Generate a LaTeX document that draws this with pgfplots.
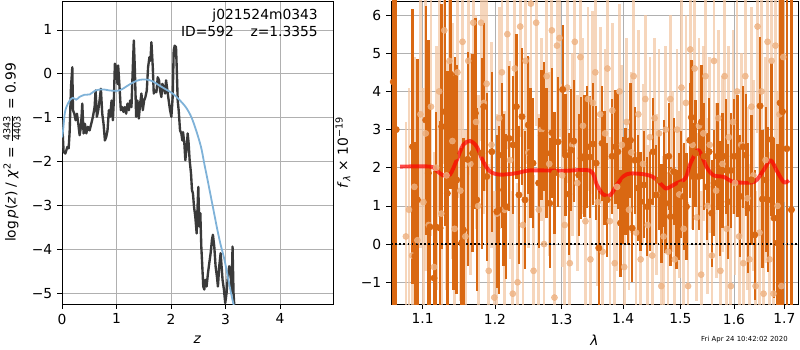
\documentclass[border=0pt]{standalone}
\usepackage{amsmath}
\usepackage{fontspec}
\setmainfont{DejaVu Sans}
\usepackage{pgfplots}
\pgfplotsset{compat=1.18}
\definecolor{dkorange}{RGB}{217,104,18}
\definecolor{ltorange}{RGB}{243,200,165}
\definecolor{ltdot}{RGB}{238,178,130}
\definecolor{pzline}{RGB}{58,58,58}
\definecolor{pzblue}{RGB}{127,178,216}
\definecolor{gridgray}{RGB}{176,176,176}
\begin{document}
\begin{tikzpicture}
\path[use as bounding box] (0,0) rectangle (576bp,252bp);
\pgfplotsset{
  every axis/.append style={
    scale only axis, anchor=south west,
    tick pos=left, tick align=outside,
    major tick length=3.5bp,
    every tick/.style={black, line width=0.6bp},
    axis line style={line width=0.6bp},
    grid=major,
    major grid style={color=gridgray, line width=0.6bp},
    tick label style={font=\fontsize{10}{12}\selectfont},
    label style={font=\fontsize{10}{12}\selectfont},
    enlargelimits=false, clip=true,
  }
}
% ---------------- left panel: p(z) ----------------
\begin{axis}[
  at={(44.64bp,33.1bp)}, width=195.1bp, height=218.2bp,
  xmin=0, xmax=4.97, ymin=-5.25, ymax=1.66,
  xtick={0,1,2,3,4}, xticklabels={0,1,2,3,4},
  ytick={-5,-4,-3,-2,-1,0,1}, yticklabels={−5,−4,−3,−2,−1,0,1},
  xlabel={\textit{z}},
  ylabel={log\,\textit{p}(\textit{z}) / \textit{χ}$^{\text{2}}$ = $\frac{\text{4343}}{\text{4403}}$ = 0.99},
  x label style={at={(axis description cs:0.5,-0.119)}, anchor=center},
  y label style={at={(axis description cs:-0.185,0.5)}, anchor=center},
]
\addplot[pzline, line width=1.7bp, line join=round] coordinates {
(0.000,-1.05) (0.006,-1.21) (0.030,-1.78) (0.061,-1.82) (0.098,-1.67) (0.122,-1.70) (0.140,-1.33)
(0.165,-0.30) (0.189,0.15) (0.201,-0.83) (0.226,-0.91) (0.250,-1.06) (0.274,-0.91) (0.299,-1.14)
(0.323,-1.40) (0.348,-1.21) (0.372,-0.68) (0.396,-1.36) (0.421,-1.14) (0.445,-1.36) (0.476,-1.21)
(0.506,-1.29) (0.537,-1.14) (0.567,-0.98) (0.598,-0.76) (0.616,-0.38) (0.640,-0.98) (0.665,-0.83)
(0.689,-0.61) (0.713,-0.34) (0.738,-0.91) (0.762,-1.14) (0.787,-1.52) (0.811,-1.44) (0.835,-1.29)
(0.860,-0.83) (0.884,-0.98) (0.909,-0.61) (0.933,-1.06) (0.951,-0.61) (0.970,0.23) (0.994,0.15)
(1.018,-0.23) (1.030,0.19) (1.055,-0.30) (1.079,-0.83) (1.104,-0.76) (1.128,-0.87) (1.152,-0.76)
(1.177,-0.91) (1.201,-0.68) (1.226,-0.83) (1.250,-0.61) (1.274,-0.76) (1.299,0.15) (1.317,0.76)
(1.335,0.15) (1.360,-0.98) (1.384,-0.61) (1.409,-1.02) (1.433,-0.68) (1.457,-0.45) (1.482,-0.83)
(1.506,-0.61) (1.530,-0.53) (1.555,-0.38) (1.579,0.15) (1.604,0.38) (1.622,0.30) (1.640,0.72)
(1.665,0.15) (1.683,-0.45) (1.707,-0.38) (1.732,-0.42) (1.756,-0.08) (1.780,-0.15) (1.799,-0.38)
(1.823,-0.53) (1.841,-0.23) (1.866,-0.30) (1.890,-0.45) (1.909,-0.15) (1.933,-0.38) (1.957,-0.61)
(1.982,-0.83) (2.006,-0.98) (2.030,-0.53) (2.049,0.53) (2.067,0.64) (2.091,0.61) (2.104,0.15)
(2.122,-0.61) (2.140,-0.83) (2.165,-1.29) (2.189,-1.36) (2.207,-1.52) (2.220,-1.33) (2.244,-1.59)
(2.262,-1.97) (2.287,-1.67) (2.305,-1.36) (2.323,-1.59) (2.341,-1.97) (2.366,-2.27) (2.384,-2.65)
(2.402,-2.73) (2.421,-3.03) (2.445,-3.26) (2.470,-3.64) (2.482,-3.18) (2.500,-2.58) (2.518,-3.48)
(2.537,-3.18) (2.555,-3.94) (2.573,-4.39) (2.591,-4.85) (2.610,-4.92) (2.628,-4.70) (2.652,-4.85)
(2.677,-4.55) (2.701,-4.32) (2.726,-4.09) (2.750,-3.79) (2.768,-3.67) (2.793,-3.94) (2.817,-4.39)
(2.841,-4.62) (2.860,-4.85) (2.884,-4.39) (2.909,-4.09) (2.927,-4.39) (2.945,-4.70) (2.970,-4.92)
(2.994,-5.23) (3.018,-5.00) (3.043,-4.62) (3.067,-4.39) (3.091,-4.47) (3.110,-5.00) (3.128,-3.94)
(3.146,-5.00) (3.165,-5.38)
};
\addplot[pzblue, line width=1.3bp, smooth] coordinates {
(0.00,-1.45) (0.02,-1.29) (0.05,-0.91) (0.08,-0.76) (0.14,-0.61) (0.20,-0.55) (0.26,-0.59)
(0.32,-0.53) (0.41,-0.48) (0.51,-0.47) (0.60,-0.39) (0.69,-0.36) (0.78,-0.36) (0.87,-0.38)
(1.00,-0.39) (1.09,-0.36) (1.18,-0.29) (1.30,-0.20) (1.42,-0.14) (1.54,-0.13) (1.66,-0.17)
(1.79,-0.27) (1.91,-0.36) (2.03,-0.45) (2.15,-0.59) (2.27,-0.76) (2.37,-0.98) (2.46,-1.29)
(2.55,-1.67) (2.61,-2.05) (2.67,-2.42) (2.73,-2.80) (2.79,-3.18) (2.85,-3.56) (2.91,-3.90)
(2.98,-4.24) (3.04,-4.62) (3.10,-5.00) (3.16,-5.34) (3.20,-5.60)
};
\node[anchor=north east, align=right, font=\fontsize{10}{12.2}\selectfont, inner sep=0pt]
  at (rel axis cs:0.945,0.975) {j021524m0343\\ID=592\hspace{12bp}z=1.3355};
\end{axis}
% ---------------- right panel: spectrum ----------------
\begin{axis}[
  at={(281.5bp,33.1bp)}, width=293bp, height=218.2bp,
  xmode=log, xmin=1.0588, xmax=1.728, ymin=-1.57, ymax=6.37,
  xtick={1.1,1.2,1.3,1.4,1.5,1.6,1.7}, xticklabels={1.1,1.2,1.3,1.4,1.5,1.6,1.7},
  minor xtick={},
  ytick={-1,0,1,2,3,4,5,6}, yticklabels={−1,0,1,2,3,4,5,6},
  xlabel={\textit{λ}}, ylabel={\textit{f}$_{\text{\textit{λ}}}$ × 10$^{\text{−19}}$},
  x label style={at={(axis description cs:0.5,-0.119)}, anchor=center},
  y label style={at={(axis description cs:-0.118,0.5)}, anchor=center},
]
% light series
\addplot[ltorange, only marks, mark=*, mark size=2.2bp,
  mark options={draw=ltdot, fill=ltdot, opacity=0.8},
  error bars/.cd, y dir=both, y explicit, error mark=none,
  error bar style={line width=2.0bp, color=ltorange, opacity=0.75}]
table[x=x, y=y, y error=e] {
x y e
1.078 0.2 3.0
1.082 0.9 3.2
1.086 -0.3 3.0
1.089 1.5 3.4
1.093 0.1 3.1
1.097 3.4 3.5
1.101 1.1 3.0
1.104 2.9 3.6
1.108 0.5 3.0
1.111 3.6 3.4
1.115 -0.6 3.0
1.118 2.0 3.2
1.122 4.0 3.3
1.125 0.8 3.0
1.129 5.6 3.5
1.132 1.8 3.0
1.136 4.8 3.2
1.140 2.7 3.1
1.143 0.4 3.0
1.147 4.5 3.3
1.151 1.4 2.9
1.154 5.3 3.3
1.158 0.2 2.8
1.162 4.8 3.0
1.165 2.1 2.9
1.169 5.8 3.2
1.173 3.2 2.8
1.176 1.0 2.9
1.180 5.8 3.1
1.184 3.7 2.9
1.188 4.2 2.8
1.191 -0.7 2.8
1.195 2.6 2.7
1.199 -1.4 2.8
1.203 0.8 2.6
1.206 3.3 2.9
1.210 4.5 2.7
1.214 0.9 2.6
1.218 5.5 3.0
1.222 2.2 2.6
1.226 -1.3 2.7
1.229 4.6 2.8
1.233 -1.0 2.6
1.237 5.7 2.9
1.241 0.5 2.5
1.245 4.8 2.7
1.249 2.4 2.5
1.253 6.3 2.8
1.257 -0.7 2.5
1.261 5.8 2.7
1.265 0.9 2.5
1.269 3.0 2.4
1.273 0.0 2.5
1.277 4.4 2.6
1.281 2.1 2.4
1.285 5.6 2.7
1.289 -1.4 2.5
1.293 5.2 2.6
1.297 5.4 2.6
1.301 1.8 2.4
1.305 0.5 2.3
1.309 4.1 2.5
1.313 -0.5 2.3
1.317 2.6 2.4
1.321 5.3 2.6
1.325 1.6 2.3
1.330 4.9 2.5
1.334 3.1 2.3
1.338 0.6 2.3
1.342 3.8 2.4
1.346 -0.4 2.3
1.350 3.7 2.4
1.354 4.5 2.5
1.358 1.1 2.2
1.362 3.4 2.3
1.366 -0.2 2.2
1.370 2.9 2.2
1.374 4.6 2.4
1.378 0.6 2.2
1.382 3.5 2.3
1.386 -0.5 2.1
1.390 1.5 2.2
1.394 4.0 2.3
1.398 2.6 2.1
1.402 -0.6 2.1
1.406 3.2 2.2
1.410 0.9 2.1
1.414 2.4 2.1
1.418 4.4 2.3
1.422 0.3 2.1
1.426 3.4 2.2
1.430 -0.4 2.1
1.434 2.1 2.1
1.438 3.8 2.2
1.442 0.5 2.1
1.446 2.8 2.1
1.450 -0.3 2.2
1.454 3.3 2.1
1.458 1.3 2.1
1.462 2.9 2.2
1.466 -1.1 2.1
1.470 0.2 2.1
1.474 3.0 2.2
1.478 -0.2 2.1
1.482 3.8 2.2
1.486 1.9 2.1
1.490 -0.4 2.2
1.494 3.0 2.1
1.498 1.3 2.2
1.502 4.1 2.3
1.506 0.4 2.2
1.510 3.7 2.3
1.514 -1.1 2.2
1.518 5.1 2.4
1.522 2.6 2.2
1.526 4.6 2.4
1.530 0.7 2.2
1.534 3.1 2.3
1.538 -0.8 2.2
1.542 2.9 2.3
1.546 4.4 2.4
1.550 1.0 2.3
1.554 2.6 2.3
1.558 -0.3 2.3
1.562 4.8 2.4
1.566 1.4 2.3
1.570 3.3 2.3
1.574 -0.7 2.3
1.578 2.1 2.3
1.582 4.4 2.5
1.586 0.4 2.3
1.590 2.8 2.4
1.594 -1.1 2.3
1.598 3.2 2.4
1.602 1.6 2.4
1.606 4.0 2.5
1.610 0.2 2.4
1.614 2.6 2.4
1.618 -0.5 2.4
1.622 4.4 2.5
1.626 1.2 2.4
1.630 -0.4 2.5
1.634 3.6 2.6
1.638 1.8 2.5
1.642 -1.1 2.5
1.646 5.7 2.8
1.650 0.3 2.6
1.654 4.0 2.7
1.658 -1.3 2.7
1.662 2.2 2.7
1.666 5.3 3.0
1.670 -0.4 2.8
1.674 4.8 3.0
1.678 -1.3 2.9
1.682 5.2 3.2
1.686 1.0 3.0
1.690 3.4 3.3
1.694 -1.1 3.5
1.698 4.9 3.8
};
% dark series
\addplot[dkorange, only marks, mark=*, mark size=2.3bp,
  mark options={draw=dkorange, fill=dkorange},
  error bars/.cd, y dir=both, y explicit, error mark=none,
  error bar style={line width=1.7bp, color=dkorange}]
table[x=x, y=y, y error=e] {
x y e
1.0618 4.25 9
1.0655 3.00 9
1.0868 2.55 3.6
1.0899 -0.32 3.0
1.0930 1.16 3.7
1.1040 3.25 3.0
1.1075 1.86 3.5
1.1097 0.45 3.2
1.1151 -0.89 2.8
1.1178 0.45 3.0
1.1232 0.42 2.8
1.1254 3.08 3.2
1.1299 3.47 3.0
1.1331 1.33 3.2
1.1376 4.45 3.0
1.1413 1.60 2.8
1.1436 2.30 2.6
1.1459 1.68 3.0
1.1528 0.03 2.5
1.1551 0.37 2.4
1.1612 2.22 2.8
1.1682 2.38 2.6
1.1720 3.43 2.5
1.1739 1.16 2.4
1.1810 2.38 2.5
1.1839 3.60 2.2
1.1882 1.77 2.2
1.1954 2.42 2.1
1.2027 0.85 2.0
1.2056 0.90 2.2
1.2100 2.33 1.9
1.2124 1.42 2.0
1.2164 0.98 1.9
1.2203 2.77 1.9
1.2262 2.60 1.8
1.2312 3.60 1.9
1.2351 1.29 1.8
1.2396 3.34 1.8
1.2441 1.16 1.8
1.2491 3.12 1.8
1.2522 2.38 1.7
1.2562 2.12 1.7
1.2648 1.60 1.7
1.2689 2.85 1.7
1.2725 3.08 1.7
1.2765 2.38 1.7
1.2817 1.07 1.7
1.2853 2.92 1.7
1.2889 1.86 1.6
1.2946 2.68 1.7
1.3019 4.05 1.7
1.3061 2.33 1.6
1.3114 1.31 1.6
1.3151 2.46 1.6
1.3193 2.70 1.6
1.3273 1.81 1.6
1.3310 2.25 1.6
1.3364 2.30 1.6
1.3407 2.55 1.6
1.3450 2.28 1.6
1.3499 2.62 1.6
1.3553 2.12 1.5
1.3597 -0.10 1.5
1.3651 2.64 1.5
1.3690 2.00 1.5
1.3734 1.16 1.5
1.3817 2.30 1.5
1.3873 2.55 1.5
1.3912 2.42 1.5
1.3957 0.55 1.4
1.3996 1.40 1.4
1.4041 1.64 1.4
1.4086 1.38 1.4
1.4126 2.72 1.5
1.4154 0.42 1.4
1.4200 2.20 1.4
1.4251 1.47 1.4
1.4297 1.11 1.3
1.4355 1.55 1.4
1.4412 0.98 1.3
1.4458 1.11 1.3
1.4516 2.42 1.4
1.4569 1.29 1.3
1.4615 1.68 1.3
1.4662 0.81 1.3
1.4703 1.86 1.4
1.4733 1.07 1.3
1.4792 2.30 1.4
1.4822 0.72 1.3
1.4881 1.90 1.4
1.4929 0.64 1.3
1.4971 0.98 1.4
1.5013 1.55 1.4
1.5061 1.25 1.4
1.5110 0.98 1.4
1.5171 2.72 1.5
1.5201 3.32 1.5
1.5232 1.77 1.4
1.5275 2.38 1.4
1.5336 1.77 1.4
1.5385 3.20 1.5
1.5435 2.30 1.4
1.5485 1.50 1.4
1.5528 2.42 1.4
1.5578 0.81 1.4
1.5621 1.60 1.4
1.5684 2.30 1.4
1.5728 1.20 1.5
1.5779 1.93 1.5
1.5842 2.30 1.5
1.5887 1.11 1.5
1.5938 1.93 1.5
1.6002 2.30 1.5
1.6066 2.30 1.6
1.6118 1.25 1.6
1.6176 2.55 1.6
1.6228 2.33 1.6
1.6274 0.94 1.7
1.6339 1.68 1.7
1.6404 0.24 1.7
1.6510 3.62 1.8
1.6557 1.18 1.8
1.6623 1.68 1.9
1.6670 1.16 1.9
1.6737 2.74 2.0
1.6791 0.68 2.1
1.6859 0.03 2.6
1.6913 3.70 9
1.6961 3.47 9
1.7050 2.50 9
1.7146 0.90 9
};
\addplot[black, line width=1.1bp, dash pattern=on 1.1bp off 1.9bp] coordinates {(1.0588,0) (1.728,0)};
\addplot[red, opacity=0.7, line width=2.8bp, smooth, line join=round] coordinates {
(1.0704,2.03) (1.1100,2.03) (1.1187,1.92) (1.1277,1.80) (1.1368,1.82) (1.1460,2.20) (1.1550,2.60)
(1.1645,2.70) (1.1740,2.55) (1.1834,2.15) (1.1930,1.90) (1.2075,1.82) (1.2320,1.86) (1.2518,1.93)
(1.3030,1.92) (1.3457,1.92) (1.3565,1.55) (1.3670,1.30) (1.3785,1.28) (1.3896,1.55) (1.4010,1.78)
(1.4120,1.85) (1.4350,1.83) (1.4524,1.75) (1.4702,1.50) (1.4760,1.46) (1.4938,1.60) (1.5089,1.72)
(1.5180,2.10) (1.5302,2.45) (1.5364,2.40) (1.5488,2.00) (1.5614,1.80) (1.5803,1.76) (1.5995,1.63)
(1.6390,1.63) (1.6586,1.95) (1.6720,2.20) (1.6855,1.90) (1.6990,1.62) (1.7093,1.67)
};
\end{axis}
\node[font=\fontsize{5}{6}\selectfont, anchor=center] at (536bp,7.2bp) {Fri Apr 24 10:42:02 2020};
\end{tikzpicture}
\end{document}
